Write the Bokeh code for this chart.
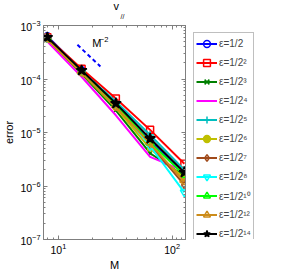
import numpy as np
from bokeh.plotting import figure
from bokeh.layouts import row
from bokeh.models import (Legend, LegendItem, Label, LogAxis, FixedTicker, Range1d,
                          CustomJSTickFormatter, Title)
from bokeh.embed import file_html
from bokeh.resources import INLINE

# ---- data ----
M = [8, 16, 32, 64, 128]
labels = ["ε=1/2", "ε=1/2²", "ε=1/2³", "ε=1/2⁴", "ε=1/2⁵", "ε=1/2⁶",
          "ε=1/2⁷", "ε=1/2⁸", "ε=1/2¹⁰", "ε=1/2¹²", "ε=1/2¹⁴"]
err_e1 = [6.3e-4, 1.45e-4, 3.5e-5, 7.2e-6, 1.7e-6]
err_e2 = [6.0e-4, 1.55e-4, 4.3e-5, 1.12e-5, 2.6e-6]
err_e3 = [5.6e-4, 1.25e-4, 2.6e-5, 4.1e-6, 1.55e-6]
err_e4 = [5.0e-4, 1.10e-4, 2.1e-5, 3.5e-6, 1.9e-6]
err_e5 = [5.8e-4, 1.40e-4, 3.8e-5, 9.0e-6, 2.0e-6]
err_e6 = [5.5e-4, 1.30e-4, 2.9e-5, 5.0e-6, 1.4e-6]
err_e7 = [5.7e-4, 1.35e-4, 3.1e-5, 6.0e-6, 1.05e-6]
err_e8 = [5.9e-4, 1.40e-4, 3.4e-5, 5.6e-6, 7.6e-7]
err_e10 = [5.8e-4, 1.38e-4, 3.3e-5, 6.5e-6, 1.6e-6]
err_e12 = [5.6e-4, 1.30e-4, 3.0e-5, 6.2e-6, 1.2e-6]
err_e14 = [6.0e-4, 1.45e-4, 3.5e-5, 7.7e-6, 1.8e-6]
series = [err_e1, err_e2, err_e3, err_e4, err_e5, err_e6,
          err_e7, err_e8, err_e10, err_e12, err_e14]

slope_M = [14.7, 23.4]
slope_err = [4.35e-4, 1.72e-4]

x_ticks = [10, 100]
y_ticks = [1e-7, 1e-6, 1e-5, 1e-4, 1e-3]

# ---- styles ----
colors = ["#0000ff", "#ff0000", "#008000", "#ff00ff", "#00bfbf", "#bfbf00",
          "#a04a1a", "#00ffff", "#00ff00", "#cc8c1a", "#000000"]
markers = ["circle", "square", "x", None, "cross", "circle", "diamond",
           "inverted_triangle", "triangle", "triangle", "star"]
msizes = [7, 7, 5, 0, 8, 5, 8, 8, 8, 8, 11]
filled = [False, False, False, False, False, True, False, False, False, False, True]
angles = [0, 0, 0, 0, 0, 0, 0, 0, 0, np.pi / 2, 0]

FONT = "Liberation Sans"
GRAY = "#7f7f7f"

p = figure(width=186, height=273, x_axis_type="log", y_axis_type="log",
           x_range=Range1d(7.4, 131), y_range=Range1d(1e-7, 1e-3),
           output_backend="svg", toolbar_location=None, title=None,
           min_border_left=37, min_border_right=1,
           min_border_top=25, min_border_bottom=34)
p.grid.visible = False
p.outline_line_color = GRAY
p.background_fill_color = "white"
p.border_fill_color = "white"

x_minor = [8, 9] + [k * 10 for k in range(2, 10)] + [110, 120, 130]
y_minor = [k * d for d in [1e-7, 1e-6, 1e-5, 1e-4] for k in range(2, 10)]

for ax in [p.xaxis[0], p.yaxis[0]]:
    ax.axis_line_color = GRAY
    ax.major_tick_line_color = GRAY
    ax.minor_tick_line_color = GRAY
    ax.major_tick_in = 4
    ax.major_tick_out = 0
    ax.minor_tick_in = 2
    ax.minor_tick_out = 0
    ax.major_label_text_font = FONT
    ax.major_label_text_font_size = "10.5px"
    ax.major_label_text_color = "black"
    ax.major_label_standoff = 3
    ax.axis_label_text_font = FONT
    ax.axis_label_text_font_size = "11px"
    ax.axis_label_text_font_style = "normal"
    ax.axis_label_text_color = "black"
    ax.axis_label_standoff = 2

p.xaxis[0].ticker = FixedTicker(ticks=x_ticks, minor_ticks=x_minor)
p.yaxis[0].ticker = FixedTicker(ticks=y_ticks, minor_ticks=y_minor)
p.xaxis[0].axis_label = "M"
p.yaxis[0].axis_label = "error"

# mirrored ticks on top / right (no labels)
blank = CustomJSTickFormatter(code="return ''")
top_ax = LogAxis(ticker=FixedTicker(ticks=x_ticks, minor_ticks=x_minor), formatter=blank)
right_ax = LogAxis(ticker=FixedTicker(ticks=y_ticks, minor_ticks=y_minor), formatter=blank)
for ax in [top_ax, right_ax]:
    ax.axis_line_color = GRAY
    ax.major_tick_line_color = GRAY
    ax.minor_tick_line_color = GRAY
    ax.major_tick_in = 4
    ax.major_tick_out = 0
    ax.minor_tick_in = 2
    ax.minor_tick_out = 0
    ax.major_label_text_font_size = "1px"
    ax.major_label_standoff = 0
p.add_layout(top_ax, "above")
p.add_layout(right_ax, "right")

# title v_//
p.add_layout(Title(text="//", align="left", offset=77, text_font=FONT,
                   text_font_size="7px", text_font_style="normal",
                   text_color="black", standoff=11), "above")
p.add_layout(Title(text="v", align="left", offset=70, text_font=FONT,
                   text_font_size="11px", text_font_style="normal",
                   text_color="black", standoff=-12), "above")

for i, ys in enumerate(series):
    p.line(M, ys, line_color=colors[i], line_width=2)
    if markers[i] is not None:
        p.scatter(M, ys, marker=markers[i], size=msizes[i],
                  line_color=colors[i], line_width=1.5,
                  fill_color=colors[i] if filled[i] else None,
                  angle=angles[i])

# slope line
p.line(slope_M, slope_err, line_color="#0000ff", line_width=2, line_dash="4 3")
p.add_layout(Label(x=19.8, y=3.7e-4, text="M", text_font=FONT,
                   text_font_size="11px", text_color="black"))
p.add_layout(Label(x=23.1, y=4.9e-4, text="−2", text_font=FONT,
                   text_font_size="7.5px", text_color="black"))

# ---- legend panel (same series, drawn off-view so only the legend shows) ----
q = figure(width=80, height=273, x_range=Range1d(1000, 2000), y_range=Range1d(0, 1),
           output_backend="svg", toolbar_location=None, title=None,
           x_axis_location=None, y_axis_location=None,
           min_border_left=0, min_border_right=0, min_border_top=18,
           min_border_bottom=0)
q.grid.visible = False
q.outline_line_color = None
q.background_fill_color = "white"
q.border_fill_color = "white"

items = []
for i, (ys, lab) in enumerate(zip(series, labels)):
    rs = [q.line(M, ys, line_color=colors[i], line_width=2)]
    if markers[i] is not None:
        rs.append(q.scatter(M, ys, marker=markers[i], size=msizes[i],
                            line_color=colors[i], line_width=1.5,
                            fill_color=colors[i] if filled[i] else None,
                            angle=angles[i]))
    items.append(LegendItem(label=lab, renderers=rs))

legend = Legend(items=items, location="top_left")
legend.label_text_font = FONT
legend.label_text_font_size = "10px"
legend.glyph_width = 21
legend.glyph_height = 17
legend.label_height = 17
legend.spacing = 2
legend.padding = 2
legend.margin = 7
legend.label_standoff = 2
legend.border_line_color = GRAY
legend.border_line_width = 1
legend.background_fill_color = "white"
legend.background_fill_alpha = 1
q.add_layout(legend, "center")

open("out.html", "w").write(file_html(row(p, q), INLINE))
